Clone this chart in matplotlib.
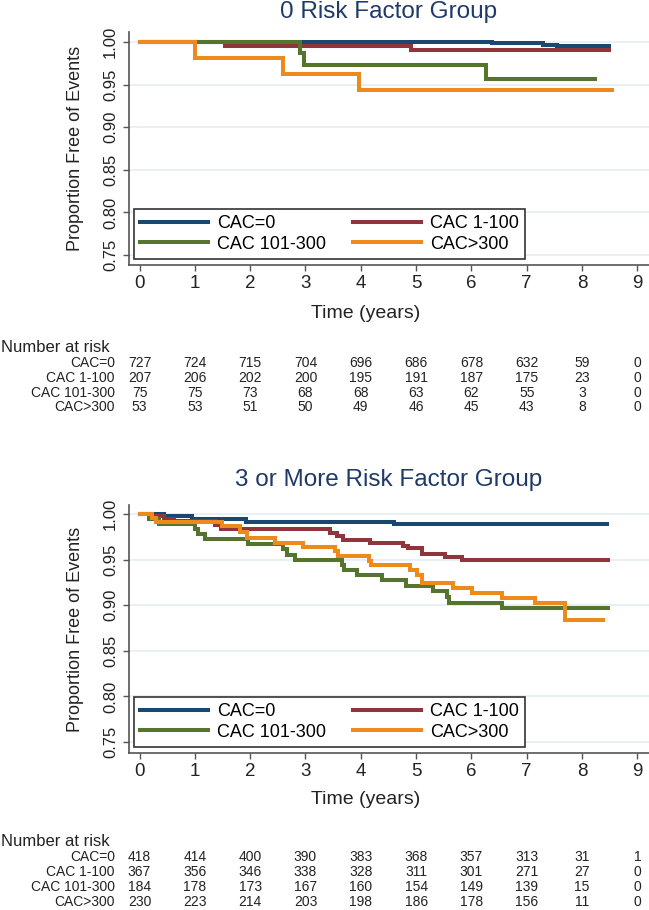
import matplotlib
matplotlib.use('Agg')
import matplotlib.pyplot as plt
from matplotlib.transforms import blended_transform_factory

plt.rcParams['font.family'] = ['Liberation Sans', 'DejaVu Sans']

groups = ['CAC=0', 'CAC 1-100', 'CAC 101-300', 'CAC>300']
colors = ['#1a476f', '#90353b', '#55752f', '#ec8a1c']
years = [0, 1, 2, 3, 4, 5, 6, 7, 8, 9]
yticks = [0.75, 0.80, 0.85, 0.90, 0.95, 1.00]

# --- 0 risk factor group (step curves: time, survival)
t0_cac0 = [0, 6.37, 7.30, 7.55, 8.49]
s0_cac0 = [1.0, 0.9985, 0.9970, 0.9953, 0.9953]
t0_cac1 = [0, 1.55, 4.91, 8.49]
s0_cac1 = [1.0, 0.9952, 0.9903, 0.9903]
t0_cac2 = [0, 2.90, 2.97, 6.27, 8.24]
s0_cac2 = [1.0, 0.9867, 0.9733, 0.9570, 0.9570]
t0_cac3 = [0, 1.00, 2.60, 3.97, 8.55]
s0_cac3 = [1.0, 0.9811, 0.9623, 0.9434, 0.9434]

risk0_cac0 = [727, 724, 715, 704, 696, 686, 678, 632, 59, 0]
risk0_cac1 = [207, 206, 202, 200, 195, 191, 187, 175, 23, 0]
risk0_cac2 = [75, 75, 73, 68, 68, 63, 62, 55, 3, 0]
risk0_cac3 = [53, 53, 51, 50, 49, 46, 45, 43, 8, 0]

# --- 3 or more risk factor group
t3_cac0 = [0, 0.45, 0.95, 1.93, 4.60, 8.45]
s3_cac0 = [1.0, 0.9976, 0.9950, 0.9916, 0.9890, 0.9890]
t3_cac1 = [0, 0.20, 0.45, 0.63, 1.37, 1.47, 3.45, 3.57, 3.68, 4.17, 4.77,
           4.86, 5.10, 5.52, 5.83, 8.47]
s3_cac1 = [1.0, 0.9973, 0.9945, 0.9918, 0.9877, 0.9836, 0.9795, 0.9755,
           0.9715, 0.9680, 0.9653, 0.9624, 0.9562, 0.9532, 0.9496, 0.9496]
t3_cac2 = [0, 0.18, 0.36, 1.00, 1.06, 1.18, 1.97, 2.60, 2.66, 2.81, 3.66,
           3.69, 3.93, 4.38, 4.82, 5.31, 5.55, 5.60, 6.55, 8.47]
s3_cac2 = [1.0, 0.9946, 0.9890, 0.9834, 0.9778, 0.9723, 0.9667, 0.9611,
           0.9555, 0.9499, 0.9443, 0.9387, 0.9331, 0.9275, 0.9215, 0.9157,
           0.9090, 0.9022, 0.8967, 0.8967]
t3_cac3 = [0, 0.22, 0.30, 1.49, 1.82, 1.94, 2.45, 2.96, 3.54, 3.58, 4.14,
           4.18, 4.89, 5.01, 5.10, 5.67, 6.01, 6.55, 7.15, 7.69, 8.38]
s3_cac3 = [1.0, 0.9957, 0.9913, 0.9869, 0.9806, 0.9740, 0.9680, 0.9635,
           0.9590, 0.9543, 0.9490, 0.9441, 0.9387, 0.9332, 0.9240, 0.9186,
           0.9130, 0.9077, 0.9022, 0.8839, 0.8839]

risk3_cac0 = [418, 414, 400, 390, 383, 368, 357, 313, 31, 1]
risk3_cac1 = [367, 356, 346, 338, 328, 311, 301, 271, 27, 0]
risk3_cac2 = [184, 178, 173, 167, 160, 154, 149, 139, 15, 0]
risk3_cac3 = [230, 223, 214, 203, 198, 186, 178, 156, 11, 0]

W, H = 649, 910


def fx(px):
    return px / W


def fy(py):
    return 1 - py / H


fig = plt.figure(figsize=(W / 100, H / 100), dpi=100)


def draw_panel(title, curves, risk, top, bottom, y1, y75, title_y,
               xlab_y, nar_y, rows_y, leg_y):
    left, right = 129, 649
    ax = fig.add_axes([fx(left), fy(bottom), (right - left) / W, (bottom - top) / H])
    scale = (y75 - y1) / 0.25
    ax.set_ylim(0.75 - (bottom - y75) / scale, 1.0 + (y1 - top) / scale)
    ax.set_xlim(-0.19, 9.21)

    lines = []
    for (t, s), name, c in zip(curves, groups, colors):
        ln, = ax.step(t, s, where='post', color=c, lw=2.9, label=name,
                      solid_joinstyle='miter')
        lines.append(ln)

    ax.set_xticks(years)
    ax.set_yticks(yticks)
    ax.set_yticklabels(['%.2f' % v for v in yticks])
    ax.yaxis.grid(True, color='#e6eff1', lw=1.3)
    ax.set_axisbelow(True)
    for side in ['top', 'right']:
        ax.spines[side].set_visible(False)
    for side in ['left', 'bottom']:
        ax.spines[side].set_color('#555555')
        ax.spines[side].set_linewidth(1.2)
    ax.tick_params(axis='x', direction='out', length=4, width=1, color='#555555',
                   labelsize=13.5, labelcolor='#222222', pad=3)
    ax.tick_params(axis='y', direction='out', length=4, width=1, color='#555555',
                   labelsize=12, labelcolor='#222222', pad=4, labelrotation=90)
    for lab in ax.get_yticklabels():
        lab.set_va('center')

    ax.set_ylabel('Proportion Free of Events', fontsize=13, color='#222222', va='center')
    ax.yaxis.set_label_coords((75 - left) / (right - left), 0.5)

    # legend filled row by row, like the original
    order = [0, 2, 1, 3]
    leg = ax.legend([lines[i] for i in order], [groups[i] for i in order],
                    ncol=2, loc='lower left', bbox_to_anchor=(fx(134), fy(leg_y)),
                    bbox_transform=fig.transFigure, borderaxespad=0, fontsize=13,
                    handlelength=3.75, handletextpad=0.5, columnspacing=1.5,
                    borderpad=0.35, labelspacing=0.2, fancybox=False,
                    framealpha=1, edgecolor='#333333')
    leg.get_frame().set_linewidth(1.2)

    fig.text(fx((left + right) / 2), fy(title_y), title, ha='center', va='center',
             fontsize=17.5, color='#1f3a68')
    fig.text(fx(366), fy(xlab_y), 'Time (years)', ha='center', va='center',
             fontsize=14, color='#222222')
    fig.text(fx(1), fy(nar_y), 'Number at risk', ha='left', va='center',
             fontsize=12, color='#222222')

    tr = blended_transform_factory(ax.transData, fig.transFigure)
    for name, counts, ry in zip(groups, risk, rows_y):
        fig.text(fx(115), fy(ry), name, ha='right', va='center', fontsize=10,
                 color='#222222')
        for x, n in zip(years, counts):
            ax.text(x, fy(ry), str(n), transform=tr, ha='center', va='center',
                    fontsize=10, color='#222222', clip_on=False)
    return ax


draw_panel('0 Risk Factor Group',
           [(t0_cac0, s0_cac0), (t0_cac1, s0_cac1), (t0_cac2, s0_cac2), (t0_cac3, s0_cac3)],
           [risk0_cac0, risk0_cac1, risk0_cac2, risk0_cac3],
           top=32, bottom=265, y1=42, y75=255, title_y=12, xlab_y=313,
           nar_y=347, rows_y=[363, 378, 393, 407], leg_y=259)

draw_panel('3 or More Risk Factor Group',
           [(t3_cac0, s3_cac0), (t3_cac1, s3_cac1), (t3_cac2, s3_cac2), (t3_cac3, s3_cac3)],
           [risk3_cac0, risk3_cac1, risk3_cac2, risk3_cac3],
           top=505, bottom=753, y1=514, y75=742, title_y=480, xlab_y=800,
           nar_y=842, rows_y=[857, 872, 887, 902], leg_y=747)

fig.savefig('out.png', dpi=100)
